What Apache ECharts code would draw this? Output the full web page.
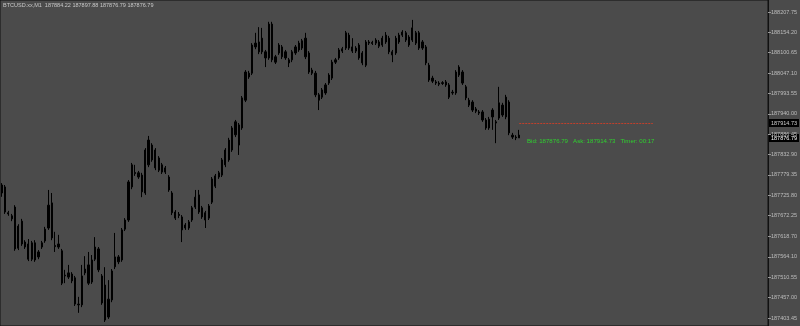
<!DOCTYPE html>
<html>
<head>
<meta charset="utf-8">
<script src="https://cdn.jsdelivr.net/npm/echarts@6/dist/echarts.min.js"></script>
<style>
html,body{margin:0;padding:0;background:#4b4b4b;}
#chart{width:800px;height:326px;}
</style>
</head>
<body>
<div id="chart"></div>
<script>
// ---- data (BTCUSD M1) ----
const symbolTitle = "BTCUSD.xx,M1  187884.22 187897.88 187876.79 187876.79";
const commentText = "Bid: 187876.79   Ask: 187914.73   Timer: 00:17";
const bidPrice = 187876.79;
const askPrice = 187914.73;
const totalSlots = 230;
const askLineFrom = 155;
const askLineTo = 195;
const yMin = 187382.4;
const yMax = 188239.3;
const tickValues = [188207.75, 188154.20, 188100.65, 188047.10, 187993.55, 187940.00, 187886.45, 187832.90,
  187779.35, 187725.80, 187672.25, 187618.70, 187564.10, 187510.55, 187457.00, 187403.45];

const opens = [
187753,187748,187680,187672,187695,187587,187598,187603,187598,187558,
187601,187564,187590,187606,187640,187706,187594,187590,187580,187514,
187511,187519,187509,187438,187438,187522,187543,187498,187558,187585,
187514,187490,187406,187451,187538,187564,187556,187637,187661,187748,
187786,187785,187779,187732,187806,187858,187845,187824,187806,187798,
187774,187732,187682,187673,187669,187640,187640,187661,187695,187727,
187693,187661,187666,187708,187750,187774,187779,187806,187819,187845,
187885,187911,187903,187976,188047,188047,188116,188129,188103,188103,
188087,188176,188090,188100,188116,188103,188082,188082,188100,188108,
188113,188139,188100,188055,188047,187990,187984,187995,188021,188034,
188076,188087,188105,188113,188147,188116,188113,188121,188100,188068,
188126,188128,188126,188129,188121,188129,188139,188103,188100,188129,
188147,188153,188142,188134,188153,188153,188129,188116,188068,188034,
188024,188021,188020,188024,188016,187995,187995,188042,188050,188011,
187976,187971,187953,187945,187945,187924,187903,187932,187919,187929,
187963,187932,187971,187884,187879,187884.22];

const highs = [
187758,187753,187685,187677,187700,187650,187664,187608,187611,187606,
187608,187582,187606,187643,187740,187732,187630,187622,187585,187530,
187543,187524,187514,187459,187543,187566,187577,187569,187616,187590,
187519,187537,187503,187532,187627,187569,187640,187666,187766,187811,
187806,187790,187785,187850,187882,187863,187850,187829,187811,187803,
187779,187737,187687,187682,187674,187653,187661,187698,187740,187740,
187698,187685,187703,187774,187782,187790,187824,187850,187877,187908,
187924,187916,187987,188055,188053,188126,188153,188168,188166,188108,
188182,188182,188095,188126,188121,188108,188087,188108,188121,188132,
188137,188153,188105,188061,188053,187995,188008,188021,188047,188082,
188087,188113,188116,188158,188153,188139,188118,188126,188105,188134,
188134,188132,188139,188134,188145,188155,188145,188108,188145,188153,
188160,188158,188147,188187,188158,188158,188134,188121,188074,188040,
188029,188026,188026,188029,188021,188003,188055,188068,188055,188016,
187982,187976,187958,187950,187950,187929,187932,187955,187924,188011,
187969,187990,187976,187890,187884,187897.88];

const lows = [
187722,187677,187672,187658,187580,187582,187593,187585,187553,187553,
187551,187558,187585,187601,187635,187608,187577,187585,187490,187495,
187506,187495,187435,187417,187432,187516,187490,187493,187553,187524,
187438,187393,187401,187445,187532,187545,187551,187632,187656,187742,
187777,187769,187721,187727,187800,187814,187792,187787,187782,187782,
187735,187674,187661,187666,187603,187635,187635,187656,187690,187677,
187664,187640,187661,187703,187745,187769,187774,187800,187814,187840,
187879,187832,187898,187971,188032,188042,188110,188097,188097,188063,
188082,188076,188071,188095,188084,188082,188063,188076,188095,188103,
188108,188084,188045,188042,187984,187950,187979,187990,188016,188029,
188071,188082,188100,188108,188108,188100,188100,188082,188068,188063,
188121,188121,188121,188113,188116,188124,188097,188076,188095,188124,
188142,188129,188116,188129,188121,188108,188108,188068,188024,188021,
188016,188013,188016,188011,187979,187990,187990,188037,188016,187976,
187958,187945,187942,187937,187919,187898,187898,187898,187863,187924,
187932,187926,187884,187874,187871,187876.79];

const closes = [
187732,187682,187677,187664,187585,187645,187658,187590,187558,187601,
187556,187577,187601,187637,187700,187614,187591,187598,187495,187516,
187522,187501,187440,187440,187514,187532,187495,187556,187590,187530,
187443,187398,187453,187527,187564,187551,187635,187661,187761,187806,
187783,187774,187735,187845,187871,187819,187798,187792,187787,187787,
187740,187680,187666,187676,187635,187648,187656,187693,187721,187682,
187669,187680,187698,187769,187777,187785,187819,187845,187871,187903,
187919,187858,187982,188050,188037,188121,188126,188103,188139,188087,
188176,188082,188076,188121,188090,188087,188074,188103,188116,188126,
188132,188090,188050,188047,187990,187976,188003,188016,188042,188076,
188082,188108,188111,188153,188113,188105,188105,188087,188074,188129,
188129,188125,188134,188118,188139,188147,188103,188095,188139,188147,
188155,188134,188121,188166,188126,188113,188113,188074,188029,188026,
188021,188018,188022,188016,187984,187997,188050,188063,188021,187982,
187963,187950,187947,187942,187924,187903,187926,187950,187916,187969,
187937,187984,187890,187879,187877,187876.79];

// ---- chart ----
const categories = [];
for (let i = 0; i < totalSlots; i++) categories.push(String(i));
const ohlc = opens.map((o, i) => [o, closes[i], lows[i], highs[i]]);

const chart = echarts.init(document.getElementById('chart'), null, {renderer: 'canvas'});
const fontFam = "'Liberation Sans', 'DejaVu Sans', sans-serif";
chart.setOption({
  animation: false,
  backgroundColor: '#4b4b4b',
  title: [
    {text: symbolTitle, left: 3, top: 2, padding: 0,
     textStyle: {color: '#c8c8c8', fontSize: 5.5, fontWeight: 'normal', fontFamily: fontFam}},
    {text: commentText, left: 527, top: 138, padding: 0,
     textStyle: {color: '#2fd02f', fontSize: 6.1, fontWeight: 'normal', fontFamily: fontFam}}
  ],
  grid: {left: 0, right: 32, top: 0, bottom: 0, show: true, borderColor: '#111', borderWidth: 1, backgroundColor: 'transparent'},
  xAxis: {
    type: 'category', data: categories, boundaryGap: true,
    axisLine: {show: false}, axisTick: {show: false}, axisLabel: {show: false}, splitLine: {show: false}
  },
  yAxis: {
    type: 'value', position: 'right', min: yMin, max: yMax, scale: true,
    axisLine: {show: true, lineStyle: {color: '#111', width: 1}},
    axisTick: {show: true, inside: false, length: 3, customValues: tickValues, lineStyle: {color: '#999'}},
    axisLabel: {show: true, customValues: tickValues, margin: 3, color: '#bdbdbd', fontSize: 5.5, fontFamily: fontFam,
      formatter: v => Number(v).toFixed(2)},
    splitLine: {show: false}
  },
  series: [{
    type: 'candlestick',
    data: ohlc,
    barWidth: 1.7,
    itemStyle: {color: '#000', color0: '#000', borderColor: '#000', borderColor0: '#000', borderWidth: 1}
  }]
});

// ask line and price boxes, placed through the chart's own axes
function priceBox(value, textColor) {
  const y = chart.convertToPixel({yAxisIndex: 0}, value);
  return {
    type: 'group', x: 769, y: Math.round(y) - 4, silent: true,
    children: [
      {type: 'rect', shape: {x: 0, y: 0, width: 30, height: 8}, style: {fill: '#000'}},
      {type: 'text', x: 2, y: 1.2, style: {text: value.toFixed(2), fill: textColor, fontSize: 5.5, fontFamily: fontFam}}
    ]
  };
}
const p1 = chart.convertToPixel({xAxisIndex: 0, yAxisIndex: 0}, [askLineFrom, askPrice]);
const p2 = chart.convertToPixel({xAxisIndex: 0, yAxisIndex: 0}, [askLineTo, askPrice]);
const ly = Math.round(p1[1]) + 0.5;
chart.setOption({graphic: [
  {type: 'line', silent: true, shape: {x1: p1[0], y1: ly, x2: p2[0], y2: ly},
   style: {stroke: '#c0402c', lineWidth: 1, lineDash: [2, 1]}},
  priceBox(askPrice, '#d0d0d0'),
  priceBox(bidPrice, '#ffffff')
]});
</script>
</body>
</html>
